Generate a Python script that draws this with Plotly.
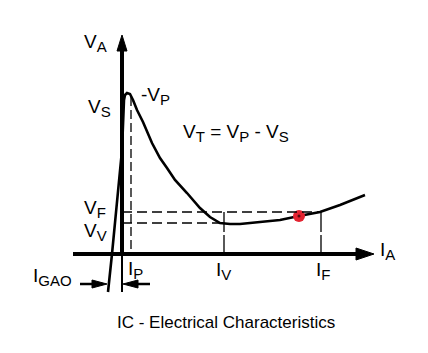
import plotly.graph_objects as go

# ---- data (diagram units: origin at axis intersection) ----
curve_i = [-14, -10, 0, 2, 3, 5, 8, 11, 15, 21, 30, 38, 45, 53, 65, 78, 88, 98, 108, 118, 138, 158, 177, 198, 218, 243]
curve_v = [-38, 0, 104, 154, 159, 161, 160, 154, 144, 132, 111, 96, 86, 74, 61, 46, 37, 31, 30, 30, 32, 34, 38, 42, 49, 59]

I_P, V_P = 9, 157
I_V, V_V = 102, 31
I_F, V_F = 199, 42
I_V_valley_end = 98
op_point = (177, 38)

v_axis = (-38, 219)   # vertical axis bottom, tip
h_axis = (-49, 252)   # horizontal axis left, tip
igao_arrow = (-42, -15, -30)  # from x, tip x, y
ip_arrow = (28, 1, -30)

labels = [
    ("V", "A", "", -27, 211),
    ("V", "S", "", -23, 146),
    ("-V", "P", "", 33, 158),
    ("V", "T", " = ", 114, 121),
    ("V", "F", "", -27, 45),
    ("V", "V", "", -27, 22),
    ("I", "GAO", "", -70, -23),
    ("I", "P", "", 13, -16),
    ("I", "V", "", 101, -17),
    ("I", "F", "", 201, -17),
    ("I", "A", "", 265, 3),
]
title_text = "IC - Electrical Characteristics"

FONT = "Liberation Sans"
INK = "#000000"
MAIN_SIZE = 19
SUB_SIZE = 15


def sub(s):
    return f"<sub><span style='font-size:{SUB_SIZE}px'>{s}</span></sub>"


def label_html(main, s, rest):
    if rest:  # the V_T equation
        return f"V{sub('T')} = V{sub('P')} - V{sub('S')}"
    return f"{main}{sub(s)}"


fig = go.Figure()


def tri(tx, ty, dx, dy, length, half):
    bx, by = tx - dx * length, ty - dy * length
    px, py = -dy, dx
    return (f"M {tx},{ty} L {bx + px*half},{by + py*half} "
            f"L {bx - px*half},{by - py*half} Z")


shapes = []
shapes.append(dict(type="line", x0=0, y0=0, x1=0, y1=v_axis[1] - 10,
                   line=dict(color=INK, width=4)))
shapes.append(dict(type="line", x0=0, y0=v_axis[0], x1=0, y1=0,
                   line=dict(color=INK, width=2)))
shapes.append(dict(type="path", path=tri(0, v_axis[1], 0, 1, 16, 5),
                   fillcolor=INK, line=dict(color=INK, width=1)))
shapes.append(dict(type="line", x0=h_axis[0], y0=0, x1=h_axis[1] - 10, y1=0,
                   line=dict(color=INK, width=4)))
shapes.append(dict(type="path", path=tri(h_axis[1], 0, 1, 0, 18, 6),
                   fillcolor=INK, line=dict(color=INK, width=1)))

thin = dict(color=INK, width=1.3, dash="10px,5px")
vdash = dict(color=INK, width=1.3, dash="20px,3px")
shapes += [
    dict(type="line", x0=0, y0=V_F, x1=I_F, y1=V_F, line=thin),
    dict(type="line", x0=0, y0=V_V, x1=I_V_valley_end, y1=V_V, line=thin),
    dict(type="line", x0=I_V, y0=V_F, x1=I_V, y1=0, line=vdash),
    dict(type="line", x0=I_F, y0=V_F, x1=I_F, y1=0, line=vdash),
    dict(type="line", x0=I_P, y0=V_P, x1=I_P, y1=0, line=dict(color=INK, width=1.3, dash="9px,4px")),
]

for (x_from, x_tip, yy) in (igao_arrow, ip_arrow):
    d = 1 if x_tip > x_from else -1
    shapes.append(dict(type="line", x0=x_from, y0=yy, x1=x_tip - d * 8, y1=yy,
                       line=dict(color=INK, width=2.5)))
    shapes.append(dict(type="path", path=tri(x_tip, yy, d, 0, 15, 4),
                       fillcolor=INK, line=dict(color=INK, width=1)))

fig.add_trace(go.Scatter(x=curve_i, y=curve_v, mode="lines",
                         line=dict(color=INK, width=2.6), hoverinfo="skip"))
fig.add_trace(go.Scatter(x=[op_point[0]], y=[op_point[1]], mode="markers",
                         marker=dict(size=12, color="#e32330", line=dict(width=0)),
                         hoverinfo="skip"))
fig.add_trace(go.Scatter(x=[op_point[0]], y=[op_point[1]], mode="markers",
                         marker=dict(size=3, color="#5a0a10"), hoverinfo="skip"))

annotations = []
for main, s, rest, x, y in labels:
    annotations.append(dict(text=label_html(main, s, rest), x=x, y=y, xref="x", yref="y",
                            showarrow=False, xanchor="center", yanchor="middle",
                            font=dict(family=FONT, size=MAIN_SIZE, color=INK)))
annotations.append(dict(text=title_text, x=104, y=-68, xref="x", yref="y", showarrow=False,
                        xanchor="center", yanchor="middle",
                        font=dict(family=FONT, size=17, color=INK)))

fig.update_layout(
    width=428, height=353, margin=dict(l=0, r=0, t=0, b=0),
    paper_bgcolor="white", plot_bgcolor="white", showlegend=False,
    xaxis=dict(range=[-122, 306], visible=False, fixedrange=True),
    yaxis=dict(range=[-99, 254], visible=False, fixedrange=True),
    shapes=shapes, annotations=annotations,
)
fig.write_html("out.html")
